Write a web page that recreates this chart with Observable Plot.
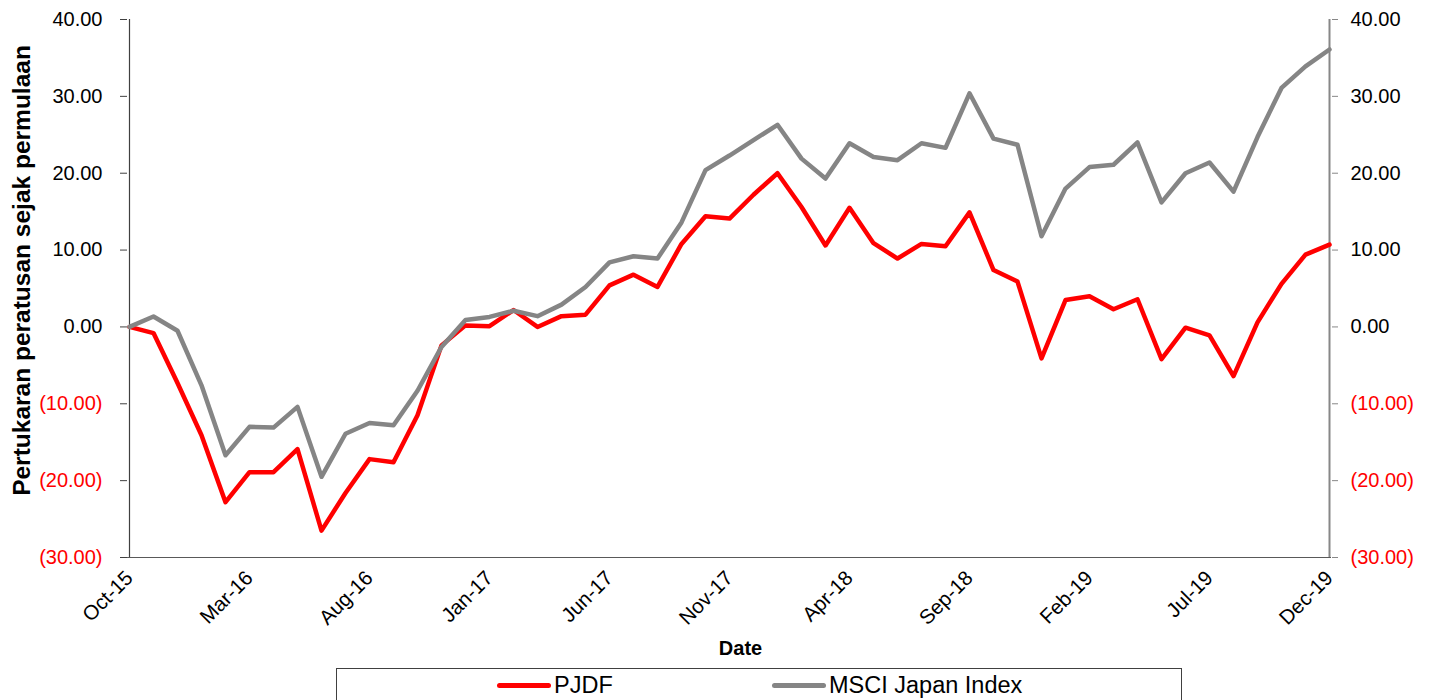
<!DOCTYPE html>
<html><head><meta charset="utf-8">
<script src="https://cdn.jsdelivr.net/npm/d3@7"></script>
<script src="https://cdn.jsdelivr.net/npm/@observablehq/plot@0.6"></script>
<style>
body{margin:0;background:#fff;font-family:"Liberation Sans",Arial,sans-serif;}
#wrap{position:relative;width:1432px;height:700px;overflow:hidden;}
#chart svg{display:block;}
#legend{position:absolute;left:336px;top:668px;width:846px;height:60px;border:1px solid #404040;box-sizing:border-box;}
.item{position:absolute;top:3px;height:26px;display:flex;align-items:center;font-size:23.5px;color:#000;white-space:nowrap;}
.sw{display:inline-block;width:54px;height:5px;border-radius:3px;margin-right:3px;}
</style></head>
<body><div id="wrap"><div id="chart"></div><div id="legend"></div></div>
<script>
const months = ["Oct-15","Nov-15","Dec-15","Jan-16","Feb-16","Mar-16","Apr-16","May-16","Jun-16","Jul-16","Aug-16","Sep-16","Oct-16","Nov-16","Dec-16","Jan-17","Feb-17","Mar-17","Apr-17","May-17","Jun-17","Jul-17","Aug-17","Sep-17","Oct-17","Nov-17","Dec-17","Jan-18","Feb-18","Mar-18","Apr-18","May-18","Jun-18","Jul-18","Aug-18","Sep-18","Oct-18","Nov-18","Dec-18","Jan-19","Feb-19","Mar-19","Apr-19","May-19","Jun-19","Jul-19","Aug-19","Sep-19","Oct-19","Nov-19","Dec-19"];
const pjdf = [0,-0.8,-7.3,-14.1,-22.8,-18.9,-18.9,-15.9,-26.5,-21.6,-17.2,-17.6,-11.5,-2.4,0.2,0.1,2.2,0.0,1.4,1.6,5.4,6.8,5.2,10.8,14.4,14.1,17.2,20.0,15.6,10.6,15.5,10.9,8.9,10.8,10.5,14.9,7.4,5.9,-4.1,3.5,4.0,2.3,3.6,-4.2,-0.1,-1.1,-6.4,0.6,5.6,9.4,10.7];
const msci = [0,1.35,-0.5,-7.6,-16.7,-13.0,-13.1,-10.4,-19.5,-13.9,-12.5,-12.8,-8.3,-2.6,0.9,1.3,2.1,1.4,2.9,5.2,8.4,9.2,8.9,13.6,20.4,22.3,24.3,26.3,21.9,19.3,23.9,22.1,21.7,23.9,23.3,30.4,24.5,23.7,11.8,18.0,20.8,21.1,24.0,16.2,20.0,21.4,17.6,24.7,31.1,33.9,36.1];
const xTicks = ["Oct-15","Mar-16","Aug-16","Jan-17","Jun-17","Nov-17","Apr-18","Sep-18","Feb-19","Jul-19","Dec-19"];
const yTicks = [-30,-20,-10,0,10,20,30,40];
const seriesNames = ["PJDF","MSCI Japan Index"];
const seriesColors = ["#ff0000","#858585"];
const yTitle = "Pertukaran peratusan sejak permulaan";
const xTitle = "Date";

const fmt = v => v < 0 ? `(${(-v).toFixed(2)})` : v.toFixed(2);
const posT = yTicks.filter(v => v >= 0), negT = yTicks.filter(v => v < 0);
const font = '"Liberation Sans", Arial, sans-serif';

const chart = Plot.plot({
  width: 1432, height: 665,
  marginLeft: 127, marginRight: 101, marginTop: 19, marginBottom: 108,
  style: {fontFamily: font, fontSize: "20px", background: "transparent", color: "#000"},
  x: {type: "point", domain: months, padding: 0},
  y: {domain: [-30, 40]},
  marks: [
    Plot.ruleY([-30], {stroke: "#595959", strokeWidth: 1.2}),
    Plot.ruleX([months[0]], {y1: -30, y2: 40, stroke: "#404040", strokeWidth: 1.2}),
    Plot.ruleX([months[months.length - 1]], {y1: -30, y2: 40, stroke: "#878787", strokeWidth: 2}),
    Plot.axisY(posT, {anchor: "left", tickSize: 7, tickPadding: 18, tickFormat: fmt, stroke: "#404040", fill: "#000", label: null}),
    Plot.axisY(negT, {anchor: "left", tickSize: 7, tickPadding: 18, tickFormat: fmt, stroke: "#404040", fill: "#ff0000", label: null}),
    Plot.axisY(posT, {anchor: "right", tickSize: 6, tickPadding: 13, tickFormat: fmt, stroke: "#878787", fill: "#000", label: null}),
    Plot.axisY(negT, {anchor: "right", tickSize: 6, tickPadding: 13, tickFormat: fmt, stroke: "#878787", fill: "#ff0000", label: null}),
    Plot.axisX(xTicks, {anchor: "bottom", tickSize: 0, tickPadding: 17, tickRotate: -45, label: null, fill: "#000", fontSize: 20.5}),
    Plot.line(pjdf, {x: (d, i) => months[i], y: d => d, stroke: seriesColors[0], strokeWidth: 4.5, strokeLinejoin: "round"}),
    Plot.line(msci, {x: (d, i) => months[i], y: d => d, stroke: seriesColors[1], strokeWidth: 4.5, strokeLinejoin: "round"}),
    Plot.text([yTitle], {frameAnchor: "left", textAnchor: "middle", lineAnchor: "middle", rotate: -90, dx: -105, dy: -18, fontWeight: "bold", fontSize: 24.5, fill: "#000"}),
    Plot.text([xTitle], {frameAnchor: "bottom", lineAnchor: "middle", dx: 11, dy: 91, fontWeight: "bold", fontSize: 20, fill: "#000"})
  ]
});
document.getElementById("chart").appendChild(chart);

const leg = document.getElementById("legend");
const pos = [[160, 216], [435, 496]];
seriesNames.forEach((n, i) => {
  const sw = document.createElement("div");
  sw.className = "item";
  sw.style.left = pos[i][0] + "px";
  sw.innerHTML = `<span class="sw" style="background:${seriesColors[i]}"></span><span>${n}</span>`;
  leg.appendChild(sw);
});
</script>
</body></html>
